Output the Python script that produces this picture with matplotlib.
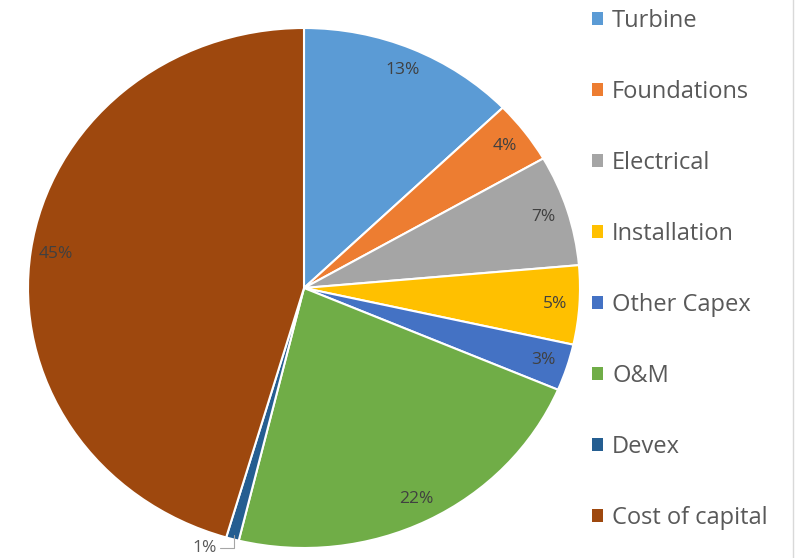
import matplotlib
matplotlib.use("Agg")
import numpy as np
import matplotlib.pyplot as plt
from matplotlib.lines import Line2D

# cost breakdown (share of total, %)
categories = ['Turbine', 'Foundations', 'Electrical', 'Installation',
              'Other Capex', 'O&M', 'Devex', 'Cost of capital']
shares = [12.8, 3.9, 6.9, 4.9, 2.9, 22.4, 0.75, 45.45]
colors = ['#5B9BD5', '#ED7D31', '#A5A5A5', '#FFC000',
          '#4472C4', '#70AD47', '#255E91', '#9E480E']

plt.rcParams['font.family'] = ['Open Sans', 'DejaVu Sans']

fig = plt.figure(figsize=(7.98, 5.58), dpi=100)
W, H = 798, 558
# pie is slightly stretched horizontally in the original
ax = fig.add_axes([28 / W, (H - 548) / H, 552 / W, 520 / H])

wedges, texts, autotexts = ax.pie(
    shares, colors=colors, startangle=90, counterclock=False,
    autopct=lambda p: f'{p:.0f}%', pctdistance=0.91,
    wedgeprops=dict(edgecolor='white', linewidth=1.5),
    textprops=dict(color='#404040', fontsize=12.5))
ax.set_aspect('auto')
ax.set_xlim(-1, 1)
ax.set_ylim(-1, 1)

# small slice: label outside with a short leader
i = categories.index('Devex')
w = wedges[i]
mid = np.deg2rad((w.theta1 + w.theta2) / 2)
autotexts[i].set_visible(False)
ax.annotate('1%', xy=(0.985 * np.cos(mid), 0.985 * np.sin(mid)),
            xytext=(-0.315, -1.0), ha='right', va='center',
            color='#595959', fontsize=12.5, annotation_clip=False,
            arrowprops=dict(arrowstyle='-', color='#A6A6A6', lw=0.8,
                            shrinkA=0, shrinkB=0,
                            connectionstyle='angle,angleA=0,angleB=90,rad=0'))

leg = fig.legend(wedges, categories, loc='upper left',
                 bbox_to_anchor=(592 / W, 1 - 9 / H), frameon=False,
                 fontsize=17, labelcolor='#595959',
                 borderpad=0, borderaxespad=0,
                 handlelength=0.45, handleheight=0.45, handletextpad=0.4,
                 labelspacing=1.99)
for h in leg.legend_handles:
    h.set_edgecolor('none')

# faint border on the right
fig.add_artist(Line2D([793 / W, 793 / W], [0, 1], color='#D9D9D9', lw=1))

fig.savefig('out.png', dpi=100)
